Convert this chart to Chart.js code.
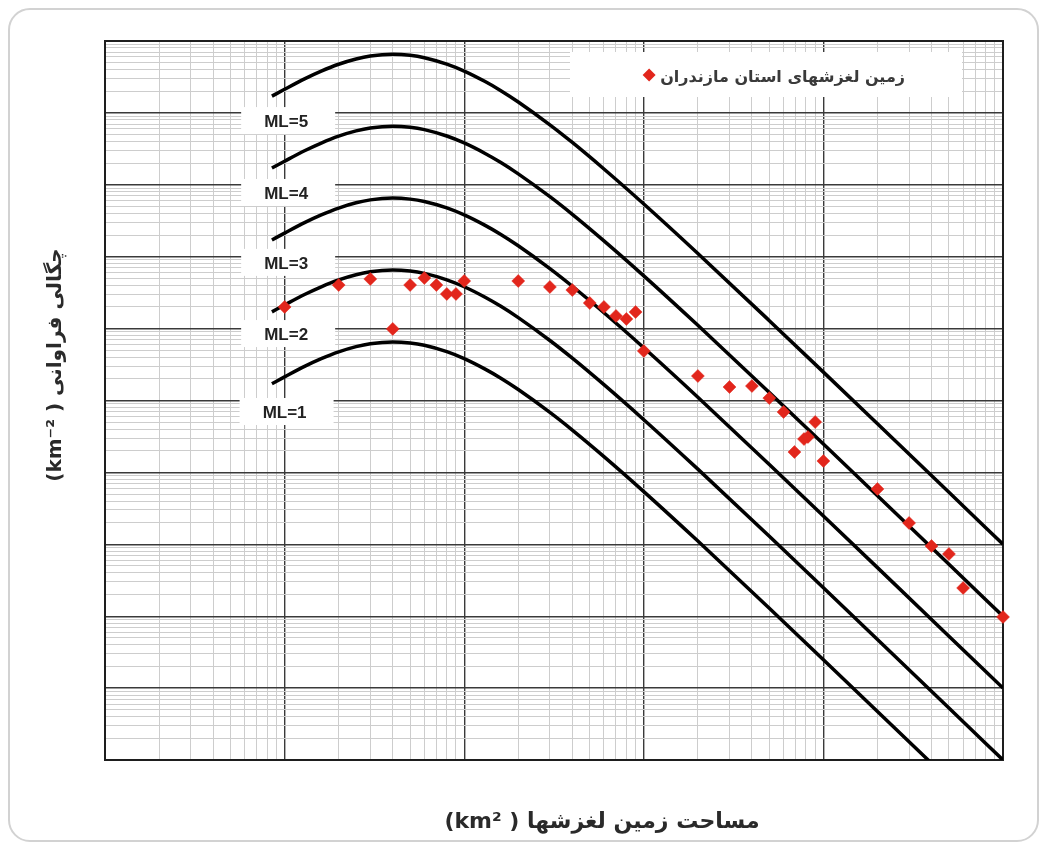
<!DOCTYPE html>
<html>
<head>
<meta charset="utf-8">
<script src="https://cdn.jsdelivr.net/npm/chart.js@4.4.1/dist/chart.umd.min.js"></script>
<style>
  html, body { margin: 0; padding: 0; background: #fff; }
  #wrap { position: relative; width: 1046px; height: 846px; overflow: hidden; }
  #frame { position: absolute; left: 8px; top: 8px; width: 1031px; height: 834px; border: 2px solid #d2d2d2; border-radius: 22px; box-sizing: border-box; }
  canvas { position: absolute; left: 0; top: 0; }
</style>
</head>
<body>
<div id="wrap">
  <div id="frame"></div>
  <canvas id="chart" width="1046" height="846"></canvas>
</div>
<script>
// --- data ---
// landslide area (km2) where the ML curves were sampled
const curveArea = [8.5e-5, 1e-4, 1.3e-4, 1.6e-4, 2e-4, 2.5e-4, 3e-4, 4e-4, 5e-4, 6e-4, 8e-4, 1e-3,
  1.3e-3, 1.6e-3, 2e-3, 3e-3, 4e-3, 6e-3, 1e-2, 2e-2, 5e-2, 0.1, 0.2, 0.5, 1];
// frequency density (km-2) of each magnitude curve
const ml1 = [1710, 2130, 3000, 3810, 4750, 5620, 6170, 6530, 6320, 5860, 4770, 3820,
  2750, 2040, 1420, 683, 388, 166, 54.1, 11.1, 1.29, 0.248, 0.0474, 0.00528, 0.001];
const ml2 = [17100, 21300, 30000, 38100, 47500, 56200, 61700, 65300, 63200, 58600, 47700, 38200,
  27500, 20400, 14200, 6830, 3880, 1660, 541, 111, 12.9, 2.48, 0.474, 0.0528, 0.01];
const ml3 = [1.71e5, 2.13e5, 3.0e5, 3.81e5, 4.75e5, 5.62e5, 6.17e5, 6.53e5, 6.32e5, 5.86e5, 4.77e5, 3.82e5,
  2.75e5, 2.04e5, 1.42e5, 6.83e4, 3.88e4, 1.66e4, 5410, 1110, 129, 24.8, 4.74, 0.528, 0.1];
const ml4 = [1.71e6, 2.13e6, 3.0e6, 3.81e6, 4.75e6, 5.62e6, 6.17e6, 6.53e6, 6.32e6, 5.86e6, 4.77e6, 3.82e6,
  2.75e6, 2.04e6, 1.42e6, 6.83e5, 3.88e5, 1.66e5, 5.41e4, 1.11e4, 1290, 248, 47.4, 5.28, 1];
const ml5 = [1.71e7, 2.13e7, 3.0e7, 3.81e7, 4.75e7, 5.62e7, 6.17e7, 6.53e7, 6.32e7, 5.86e7, 4.77e7, 3.82e7,
  2.75e7, 2.04e7, 1.42e7, 6.83e6, 3.88e6, 1.66e6, 5.41e5, 1.11e5, 1.29e4, 2480, 474, 52.8, 10];
const mlNames = ['ML=1', 'ML=2', 'ML=3', 'ML=4', 'ML=5'];
// where each ML tag sits (area, density)
const mlTagArea = [1e-4, 1.02e-4, 1.02e-4, 1.02e-4, 1.02e-4];
const mlTagDensity = [692, 8.4e3, 8.2e4, 7.7e5, 7.7e6];

// Mazandaran landslides
const slideArea = [1e-4, 2e-4, 3e-4, 4e-4, 5e-4, 6e-4, 7e-4, 8e-4, 9e-4, 1e-3,
  2e-3, 3e-3, 4e-3, 5e-3, 6e-3, 7e-3, 8e-3, 9e-3, 1e-2,
  2e-2, 3e-2, 4e-2, 5e-2, 6e-2, 9e-2, 7.8e-2, 8.2e-2, 6.9e-2, 0.1,
  0.2, 0.3, 0.4, 0.5, 0.6, 1];
const slideDensity = [2.0e4, 4.04e4, 4.9e4, 9.9e3, 4.04e4, 5.06e4, 4.04e4, 3.03e4, 3.03e4, 4.59e4,
  4.59e4, 3.79e4, 3.44e4, 2.27e4, 2.0e4, 1.5e4, 1.36e4, 1.7e4, 4880,
  2190, 1540, 1590, 1080, 692, 502, 291, 311, 192, 144,
  58.7, 19.8, 9.47, 7.33, 2.47, 0.975];

// grid (no tick labels on the figure)
const xDecades = [1e-5, 1e-4, 1e-3, 1e-2, 1e-1, 1];
const yDecades = [1e-2, 1e-1, 1, 10, 100, 1e3, 1e4, 1e5, 1e6, 1e7, 1e8];
const minorSteps = [2, 3, 4, 5, 6, 7, 8, 9];

const xTitle = '(km² ) مساحت زمین لغزشها';
const yTitle = '(km⁻² ) چگالی فراوانی';
const legendText = 'زمین لغزشهای استان مازندران';

// --- helpers ---
const isDecade = v => Math.abs(Math.log10(v) - Math.round(Math.log10(v))) < 1e-9;

function gridValues(decades) {
  const vals = [];
  decades.forEach((d, i) => {
    vals.push(d);
    if (i < decades.length - 1) minorSteps.forEach(k => vals.push(d * k));
  });
  return vals;
}

const gridStyle = {
  drawTicks: false,
  color: c => (c.tick && isDecade(c.tick.value)) ? '#3a3a3a' : '#cdcdcd',
  lineWidth: c => (c.tick && isDecade(c.tick.value)) ? 1.4 : 1
};

const RED = '#e2261c';

// --- datasets ---
const curveSets = [ml1, ml2, ml3, ml4, ml5].map((vals, i) => ({
  type: 'line',
  label: mlNames[i],
  data: curveArea.map((a, j) => ({ x: a, y: vals[j] })),
  borderColor: '#000',
  borderWidth: 3.5,
  pointRadius: 0,
  cubicInterpolationMode: 'monotone',
  fill: false,
  order: 1
}));

const slideSet = {
  type: 'scatter',
  label: legendText,
  data: slideArea.map((a, i) => ({ x: a, y: slideDensity[i] })),
  pointStyle: 'rectRot',
  pointRadius: 6.5,
  backgroundColor: RED,
  borderColor: RED,
  borderWidth: 0.5,
  clip: false,
  order: 0
};

// frame, ML tags, legend box and axis titles
const decorations = {
  id: 'decorations',
  beforeDatasetsDraw(chart) {
    const { ctx, chartArea: a, scales: { x, y } } = chart;
    ctx.save();
    ctx.strokeStyle = '#1e1e1e';
    ctx.lineWidth = 2;
    ctx.strokeRect(a.left, a.top, a.right - a.left, a.bottom - a.top);

    // ML tags
    ctx.font = 'bold 17px "Liberation Sans"';
    ctx.textAlign = 'center';
    ctx.textBaseline = 'middle';
    mlNames.forEach((name, i) => {
      const px = x.getPixelForValue(mlTagArea[i]);
      const py = y.getPixelForValue(mlTagDensity[i]);
      ctx.fillStyle = '#fff';
      ctx.fillRect(px - 45, py - 14, 94, 27);
      ctx.fillStyle = '#222';
      ctx.fillText(name, px, py + 1);
    });

    // legend
    const bx = a.right - 433, by = a.top + 11;
    ctx.fillStyle = '#fff';
    ctx.fillRect(bx, by, 392, 45);
    ctx.font = 'bold 16px "DejaVu Sans"';
    ctx.textAlign = 'right';
    ctx.fillStyle = '#3a3a3a';
    const tx = a.right - 98, ty = by + 26;
    ctx.fillText(legendText, tx, ty);
    const w = ctx.measureText(legendText).width;
    const dx = tx - w - 11, r = 6.5;
    ctx.fillStyle = RED;
    ctx.beginPath();
    ctx.moveTo(dx - r, ty - 3); ctx.lineTo(dx, ty - 3 - r); ctx.lineTo(dx + r, ty - 3); ctx.lineTo(dx, ty - 3 + r);
    ctx.closePath();
    ctx.fill();
    ctx.restore();
  },
  afterDraw(chart) {
    const { ctx } = chart;
    ctx.save();
    ctx.fillStyle = '#2a2a2a';
    ctx.textAlign = 'center';
    ctx.textBaseline = 'middle';
    ctx.font = 'bold 22px "DejaVu Sans"';
    ctx.fillText(xTitle, 602, 822);
    ctx.translate(56, 365);
    ctx.rotate(-Math.PI / 2);
    ctx.font = 'bold 20px "DejaVu Sans"';
    ctx.fillText(yTitle, 0, 0);
    ctx.restore();
  }
};

new Chart(document.getElementById('chart'), {
  type: 'scatter',
  data: { datasets: [...curveSets, slideSet] },
  options: {
    responsive: false,
    animation: false,
    layout: { padding: { left: 105, top: 41, right: 43, bottom: 86 } },
    plugins: { legend: { display: false }, tooltip: { enabled: false } },
    scales: {
      x: {
        type: 'logarithmic',
        min: 1e-5,
        max: 1,
        ticks: { display: false },
        border: { display: false },
        grid: gridStyle,
        afterBuildTicks: s => { s.ticks = gridValues(xDecades).map(v => ({ value: v })); }
      },
      y: {
        type: 'logarithmic',
        min: 1e-2,
        max: 1e8,
        ticks: { display: false },
        border: { display: false },
        grid: gridStyle,
        afterBuildTicks: s => { s.ticks = gridValues(yDecades).map(v => ({ value: v })); }
      }
    }
  },
  plugins: [decorations]
});
</script>
</body>
</html>
